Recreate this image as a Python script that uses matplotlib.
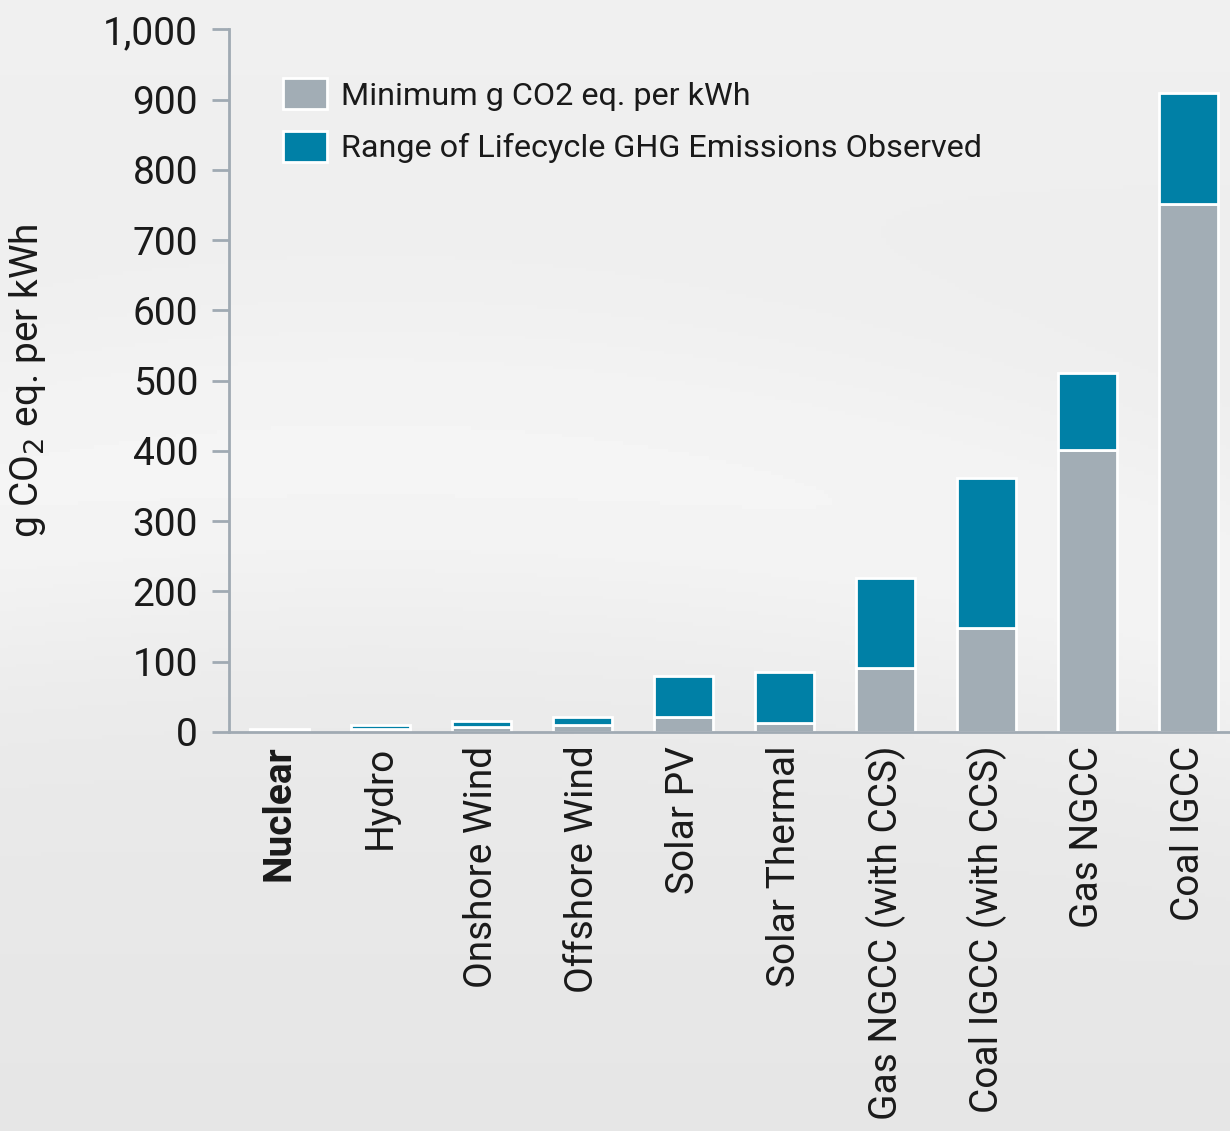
import numpy as np
import matplotlib.pyplot as plt

categories = ["Nuclear", "Hydro", "Onshore Wind", "Offshore Wind", "Solar PV",
              "Solar Thermal", "Gas NGCC (with CCS)", "Coal IGCC (with CCS)",
              "Gas NGCC", "Coal IGCC"]
minimum = [2, 4, 7, 9, 21, 13, 91, 148, 401, 752]
maximum = [4, 10, 15, 21, 80, 85, 219, 361, 511, 910]
yticks = [0, 100, 200, 300, 400, 500, 600, 700, 800, 900, 1000]
ytick_labels = ["0", "100", "200", "300", "400", "500", "600", "700", "800", "900", "1,000"]

GRAY = "#A2ADB5"
BLUE = "#0080A6"
AXIS = "#A0AAB3"
TEXT = "#1a1a1a"

plt.rcParams["font.family"] = ["Roboto", "DejaVu Sans"]

fig = plt.figure(figsize=(12.3, 11.31), dpi=100)

# background gradient with a soft light swoosh
bg = fig.add_axes([0, 0, 1, 1], zorder=-10)
yy, xx = np.mgrid[0:1:300j, 0:1:300j]
swoosh = np.exp(-((yy - (0.62 - 0.25 * (xx - 0.5) ** 2 - 0.1 * xx)) / 0.15) ** 2)
img = 0.9 + 0.04 * yy + 0.035 * swoosh
bg.imshow(img, cmap="gray", vmin=0, vmax=1, extent=[0, 1, 0, 1], aspect="auto", origin="lower")
bg.axis("off")

ax = fig.add_axes([0.186, 0.353, 0.814, 0.621])
ax.patch.set_alpha(0)

x = np.arange(len(categories))
rng = np.array(maximum) - np.array(minimum)
ax.bar(x, minimum, width=0.58, color=GRAY, edgecolor="white", linewidth=2,
       label="Minimum g CO2 eq. per kWh")
ax.bar(x, rng, bottom=minimum, width=0.58, color=BLUE, edgecolor="white", linewidth=2,
       label="Range of Lifecycle GHG Emissions Observed")

ax.set_xlim(-0.5, 9.41)
ax.set_ylim(0, 1000)
ax.set_yticks(yticks)
ax.set_yticklabels(ytick_labels, fontsize=28, color=TEXT)
ax.set_xticks(x)
ax.set_xticklabels(categories, rotation=90, fontsize=28, color=TEXT)
ax.get_xticklabels()[0].set_fontweight("bold")
ax.tick_params(axis="y", length=12, width=2, color=AXIS, pad=10)
ax.tick_params(axis="x", length=0, pad=10)

for s in ["top", "right"]:
    ax.spines[s].set_visible(False)
for s in ["left", "bottom"]:
    ax.spines[s].set_color(AXIS)
    ax.spines[s].set_linewidth(2)

ax.set_ylabel("g CO$_2$ eq. per kWh", fontsize=28, color=TEXT, labelpad=40)

leg = ax.legend(loc="upper left", bbox_to_anchor=(0.025, 0.972), frameon=False,
                fontsize=23.3, handlelength=1.35, handleheight=1.1, labelspacing=0.62,
                handletextpad=0.45, labelcolor=TEXT)

fig.savefig("out.png", dpi=100)
